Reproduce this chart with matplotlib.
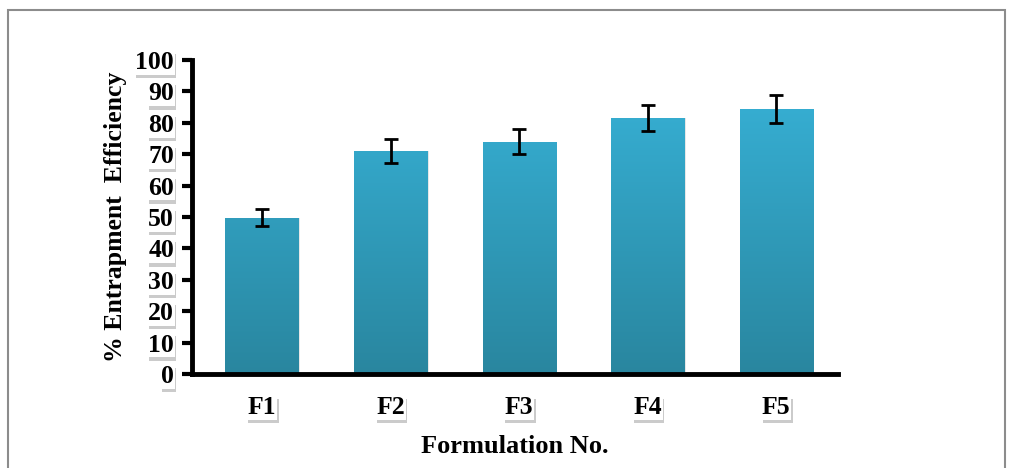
import matplotlib
matplotlib.use("Agg")
import matplotlib.pyplot as plt
import matplotlib.patheffects as pe
from matplotlib.patches import Rectangle
import numpy as np

categories = ["F1", "F2", "F3", "F4", "F5"]
values = [49.7, 71.0, 74.0, 81.6, 84.4]
errors = [2.7, 3.7, 4.0, 4.2, 4.4]
yticks = [0, 10, 20, 30, 40, 50, 60, 70, 80, 90, 100]

plt.rcParams['font.family'] = ['Liberation Serif', 'DejaVu Serif']
plt.rcParams['font.weight'] = 'bold'

fig = plt.figure(figsize=(10.1, 4.68), dpi=100)
fig.patches.append(Rectangle((8/1010, -0.01), 997/1010, 1 - 10/468 + 0.01,
                             transform=fig.transFigure, fill=False,
                             edgecolor='#8c8c8c', linewidth=1.5))
ax = fig.add_axes([192/1010, 1-374/468, (838-192)/1010, 314/468])

x = np.arange(len(categories))
width = 0.57
top_c = np.array([0x38, 0xb4, 0xda]) / 255
bot_c = np.array([0x29, 0x86, 0x9f]) / 255
grad = np.linspace(0, 1, 256)[:, None]
cols = bot_c[None, :] * (1 - grad) + top_c[None, :] * grad
img = np.repeat(cols[:, None, :], 2, axis=1)

bars = ax.bar(x, values, width=width, color='none', edgecolor='none', zorder=2)
for b, v in zip(bars, values):
    x0 = b.get_x()
    ax.add_patch(Rectangle((x0 + 0.012, 0), width, v, facecolor='#d8d8d8',
                           edgecolor='none', zorder=1, alpha=0.6))
    im = ax.imshow(img, extent=[x0, x0 + width, 0, 100], origin='lower',
                   aspect='auto', zorder=2)
    im.set_clip_path(b)

ax.errorbar(x, values, yerr=errors, fmt='none', ecolor='black', elinewidth=2,
            capsize=5, capthick=2, zorder=4)

ax.set_xlim(-0.545, 4.48)
ax.set_ylim(0, 100)
ax.set_yticks(yticks)
ax.set_xticks(x)
ax.set_xticklabels(categories)

for s in ['top', 'right']:
    ax.spines[s].set_visible(False)
for s in ['left', 'bottom']:
    ax.spines[s].set_linewidth(3.5)
    ax.spines[s].set_zorder(5)
ax.tick_params(axis='y', direction='out', length=7, width=3, labelsize=18.5, pad=6)
ax.tick_params(axis='x', length=0, labelsize=18.5, pad=16)

for lab in ax.get_yticklabels() + ax.get_xticklabels():
    lab.set_fontweight('bold')
    lab.set_bbox(dict(facecolor='white', edgecolor='none', pad=0.5))

ax.set_ylabel('% Entrapment  Efficiency', fontsize=18.5, fontweight='bold', labelpad=6)
ax.set_xlabel('Formulation No.', fontsize=19, fontweight='bold', labelpad=11)

fig.canvas.draw()
for lab in ax.get_yticklabels() + ax.get_xticklabels():
    bp = lab.get_bbox_patch()
    if bp is not None:
        bp.set_path_effects([pe.SimplePatchShadow(offset=(1, -2.5), shadow_rgbFace='#999999', alpha=0.5),
                             pe.Normal()])

fig.savefig('out.png', dpi=100)
